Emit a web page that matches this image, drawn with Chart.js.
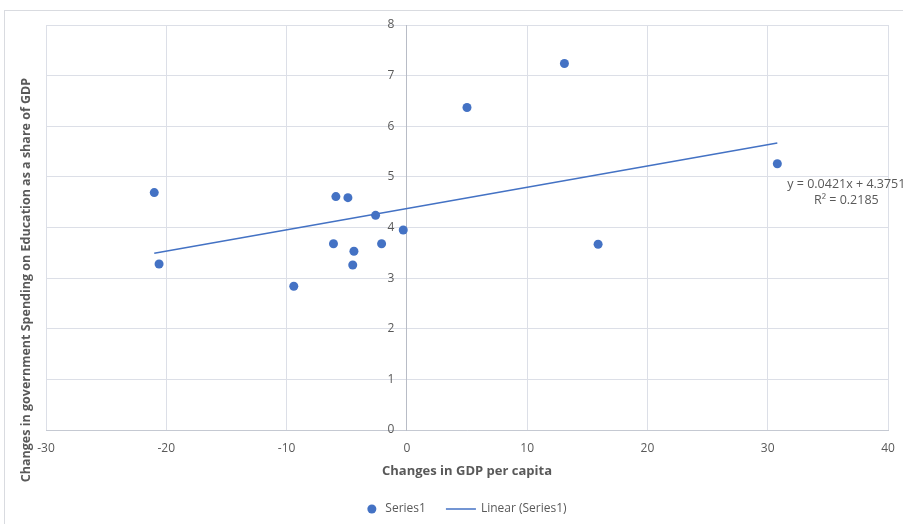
<!DOCTYPE html>
<html>
<head>
<meta charset="utf-8">
<title>GDP per capita vs education spending</title>
<script src="https://cdn.jsdelivr.net/npm/chart.js"></script>
<style>
    html, body { margin: 0; padding: 0; background: #ffffff; }
    canvas { display: block; }
</style>
</head>
<body>
<canvas id="scatterChart" width="903" height="524"></canvas>
<script>
// ===== DATA =====
const gdpChange = [-21.0, -20.6, -9.4, -5.9, -4.9, -6.1, -4.4, -4.5, -2.6, -2.1, -0.3, 5.0, 13.1, 15.9, 30.8];
const eduChange = [4.69, 3.28, 2.84, 4.61, 4.59, 3.68, 3.53, 3.26, 4.24, 3.68, 3.95, 6.37, 7.24, 3.67, 5.26];

// trendline end points (y = 0.0421x + 4.3751 over the data range)
const trendX = [-21.0, 30.8];
const trendY = [3.49, 5.67];

const xTicks = [-30, -20, -10, 0, 10, 20, 30, 40];
const yTicks = [0, 1, 2, 3, 4, 5, 6, 7, 8];

const seriesLabels = ['Series1', 'Linear (Series1)'];
const equationLines = ['y = 0.0421x + 4.3751', 'R\u00B2 = 0.2185'];
const xTitle = 'Changes in GDP per capita';
const yTitle = 'Changes in government Spending on Education as a share of GDP';

const BLUE = '#4472C4';
const TEXT = '#595959';
const GRID = '#dcdfe7';
const FONT = "'Open Sans', 'Noto Sans', sans-serif";

// outer chart frame like the Excel chart border
const framePlugin = {
    id: 'frame',
    beforeDraw(chart) {
        const ctx = chart.ctx;
        ctx.save();
        ctx.strokeStyle = '#d9dbe0';
        ctx.lineWidth = 1;
        ctx.strokeRect(4.5, 10.5, chart.width + 20, chart.height + 20);
        ctx.restore();
    }
};

// vertical title on the left (the y axis itself sits at x = 0)
const yTitlePlugin = {
    id: 'yTitle',
    afterDraw(chart) {
        const ctx = chart.ctx;
        ctx.save();
        ctx.translate(26, 280);
        ctx.rotate(-Math.PI / 2);
        ctx.font = "bold 12.5px " + FONT;
        ctx.fillStyle = TEXT;
        ctx.textAlign = 'center';
        ctx.textBaseline = 'middle';
        ctx.fillText(yTitle, 0, 0);
        ctx.restore();
    }
};

// trendline equation label
const equationPlugin = {
    id: 'equation',
    afterDatasetsDraw(chart) {
        const ctx = chart.ctx;
        const xs = chart.scales.x;
        const ys = chart.scales.y;
        const cx = xs.getPixelForValue(trendX[1]) + 69;
        const cy = ys.getPixelForValue(trendY[1]) + 41;
        ctx.save();
        ctx.font = "12.5px " + FONT;
        ctx.fillStyle = TEXT;
        ctx.textAlign = 'center';
        ctx.textBaseline = 'middle';
        ctx.fillText(equationLines[0], cx, cy);
        ctx.fillText(equationLines[1], cx, cy + 16);
        ctx.restore();
    }
};

// legend under the plot, centred on the plot area
const legendPlugin = {
    id: 'bottomLegend',
    afterDraw(chart) {
        const ctx = chart.ctx;
        const area = chart.chartArea;
        const y = 509;
        ctx.save();
        ctx.font = "12px " + FONT;
        const w1 = ctx.measureText(seriesLabels[0]).width;
        const w2 = ctx.measureText(seriesLabels[1]).width;
        const total = 9 + 9 + w1 + 20 + 30 + 5 + w2;
        let x = (area.left + area.right) / 2 - total / 2;

        ctx.fillStyle = BLUE;
        ctx.beginPath();
        ctx.arc(x + 4.5, y, 4.5, 0, Math.PI * 2);
        ctx.fill();
        x += 18;

        ctx.fillStyle = TEXT;
        ctx.textBaseline = 'middle';
        ctx.fillText(seriesLabels[0], x, y);
        x += w1 + 20;

        ctx.strokeStyle = BLUE;
        ctx.lineWidth = 1.5;
        ctx.beginPath();
        ctx.moveTo(x, y);
        ctx.lineTo(x + 30, y);
        ctx.stroke();
        x += 35;

        ctx.fillText(seriesLabels[1], x, y);
        ctx.restore();
    }
};

function initializeScatterChart() {
    const ctx = document.getElementById('scatterChart');
    if (!ctx) return;

    const points = gdpChange.map((x, i) => ({ x: x, y: eduChange[i] }));
    const trend = trendX.map((x, i) => ({ x: x, y: trendY[i] }));

    new Chart(ctx, {
        type: 'scatter',
        data: {
            datasets: [{
                label: seriesLabels[0],
                data: points,
                backgroundColor: BLUE,
                borderColor: BLUE,
                pointRadius: 4.5,
                pointHoverRadius: 4.5,
                borderWidth: 0
            }, {
                label: seriesLabels[1],
                type: 'line',
                data: trend,
                borderColor: BLUE,
                borderWidth: 1.5,
                pointRadius: 0,
                fill: false,
                tension: 0
            }]
        },
        options: {
            responsive: false,
            animation: false,
            layout: {
                padding: { left: 46, top: 25, right: 15, bottom: 42 }
            },
            plugins: {
                legend: { display: false },
                tooltip: { enabled: false }
            },
            scales: {
                x: {
                    type: 'linear',
                    position: 'bottom',
                    min: -30,
                    max: 40,
                    afterBuildTicks: s => { s.ticks = xTicks.map(v => ({ value: v })); },
                    afterFit: s => { s.height = 52; },
                    ticks: {
                        color: TEXT,
                        // taller line box pushes labels down without widening side padding
                        font: { family: FONT, size: 12, lineHeight: 1.7 },
                        padding: 8,
                        maxRotation: 0
                    },
                    grid: { color: GRID, drawTicks: false },
                    border: { color: '#c5c9d2' },
                    title: {
                        display: true,
                        text: xTitle,
                        color: TEXT,
                        font: { family: FONT, size: 13, weight: 'bold' },
                        padding: { top: 4, bottom: 3 }
                    }
                },
                y: {
                    type: 'linear',
                    position: { x: 0 },
                    min: 0,
                    max: 8,
                    afterBuildTicks: s => { s.ticks = yTicks.map(v => ({ value: v })); },
                    afterFit: s => { s.width = 0; },
                    ticks: {
                        color: TEXT,
                        font: { family: FONT, size: 12 },
                        // axis sits at x = 0, so pad the label text itself
                        callback: v => v + '    '
                    },
                    grid: { color: GRID, drawTicks: false },
                    border: { color: '#b8bcc6' }
                }
            }
        },
        plugins: [framePlugin, yTitlePlugin, equationPlugin, legendPlugin]
    });
}

document.addEventListener('DOMContentLoaded', initializeScatterChart);
</script>
</body>
</html>
